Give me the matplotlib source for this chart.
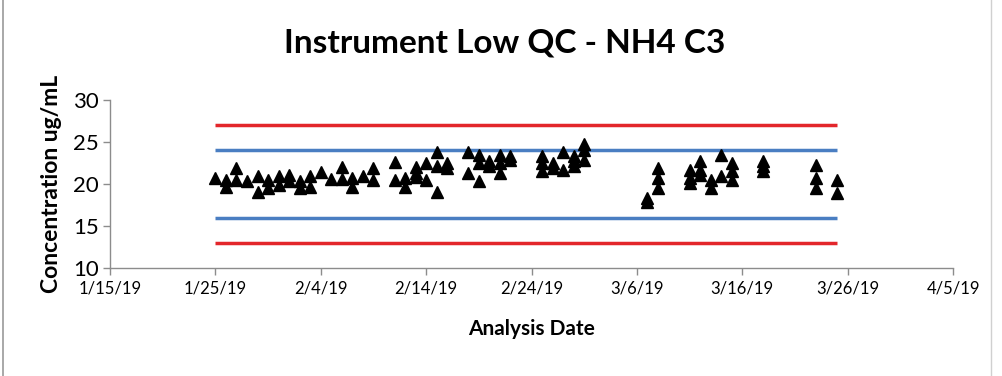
import datetime as dt
import matplotlib
matplotlib.use("Agg")
import matplotlib.pyplot as plt
import matplotlib.dates as mdates
from matplotlib.ticker import FuncFormatter

# --- QC results (date, concentration) ---
qc_dates = [
    "2019-01-25", "2019-01-26", "2019-01-26", "2019-01-27", "2019-01-27",
    "2019-01-28", "2019-01-29", "2019-01-29", "2019-01-30", "2019-01-30",
    "2019-01-31", "2019-01-31", "2019-02-01", "2019-02-01", "2019-02-02",
    "2019-02-02", "2019-02-03", "2019-02-03", "2019-02-04", "2019-02-05",
    "2019-02-06", "2019-02-06", "2019-02-07", "2019-02-07", "2019-02-08",
    "2019-02-09", "2019-02-09",
    "2019-02-11", "2019-02-11", "2019-02-12", "2019-02-12", "2019-02-13",
    "2019-02-13", "2019-02-13", "2019-02-14", "2019-02-14", "2019-02-15",
    "2019-02-15", "2019-02-15", "2019-02-16", "2019-02-16",
    "2019-02-18", "2019-02-18", "2019-02-19", "2019-02-19", "2019-02-19",
    "2019-02-20", "2019-02-20", "2019-02-21", "2019-02-21", "2019-02-21",
    "2019-02-22", "2019-02-22",
    "2019-02-25", "2019-02-25", "2019-02-25", "2019-02-26", "2019-02-26",
    "2019-02-27", "2019-02-27", "2019-02-28", "2019-02-28", "2019-02-28",
    "2019-03-01", "2019-03-01", "2019-03-01",
    "2019-03-07", "2019-03-07", "2019-03-08", "2019-03-08", "2019-03-08",
    "2019-03-11", "2019-03-11", "2019-03-11", "2019-03-12", "2019-03-12",
    "2019-03-12", "2019-03-13", "2019-03-13", "2019-03-14", "2019-03-14",
    "2019-03-15", "2019-03-15", "2019-03-15",
    "2019-03-18", "2019-03-18", "2019-03-18",
    "2019-03-23", "2019-03-23", "2019-03-23",
    "2019-03-25", "2019-03-25",
]
qc_values = [
    20.7, 20.5, 19.7, 21.9, 20.5,
    20.3, 20.9, 19.1, 20.5, 19.5,
    20.9, 19.9, 21.1, 20.3, 20.3,
    19.5, 20.9, 19.7, 21.4, 20.6,
    22.0, 20.6, 20.7, 19.6, 20.9,
    21.9, 20.5,
    22.6, 20.5, 20.7, 19.7, 22.0,
    21.3, 20.8, 22.5, 20.5, 23.8,
    22.1, 19.1, 22.5, 21.9,
    23.8, 21.3, 23.5, 22.5, 20.3,
    22.7, 22.1, 23.5, 22.5, 21.3,
    23.3, 22.9,
    23.3, 22.5, 21.5, 22.5, 21.9,
    23.8, 21.7, 23.3, 22.7, 22.1,
    24.8, 24.0, 22.9,
    18.3, 17.9, 21.9, 20.7, 19.5,
    21.7, 20.7, 20.1, 22.7, 21.7,
    21.1, 20.5, 19.5, 23.5, 20.9,
    22.5, 21.5, 20.5,
    22.7, 22.1, 21.5,
    22.3, 20.7, 19.5,
    20.5, 18.9,
]

# --- control limits ---
limit_span = ["2019-01-25", "2019-03-25"]
warning_limits = [16, 24]
control_limits = [13, 27]

x_ticks = ["2019-01-15", "2019-01-25", "2019-02-04", "2019-02-14", "2019-02-24",
           "2019-03-06", "2019-03-16", "2019-03-26", "2019-04-05"]
y_ticks = [10, 15, 20, 25, 30]


def to_num(days):
    return [mdates.date2num(dt.datetime.strptime(d, "%Y-%m-%d")) for d in days]


def fmt_date(x, pos=None):
    d = mdates.num2date(x)
    return f"{d.month}/{d.day}/{d.strftime('%y')}"


plt.rcParams['font.family'] = ['Lato', 'DejaVu Sans']

fig = plt.figure(figsize=(10.03, 3.76), dpi=100)
ax = fig.add_axes([0.1097, 0.2872, 0.8405, 0.4468])

span = to_num(limit_span)
for lim in control_limits:
    ax.plot(span, [lim, lim], color='#E3262B', linewidth=2.5, solid_capstyle='butt', zorder=2)
for lim in warning_limits:
    ax.plot(span, [lim, lim], color='#4A7EC2', linewidth=2.5, solid_capstyle='butt', zorder=2)

ax.plot(to_num(qc_dates), qc_values, linestyle='none', marker='^', color='black',
        markersize=9, zorder=3)

ax.set_xlim(to_num(["2019-01-15", "2019-04-05"]))
ax.set_ylim(10, 30)
ax.set_xticks(to_num(x_ticks))
ax.xaxis.set_major_formatter(FuncFormatter(fmt_date))
ax.set_yticks(y_ticks)

for side in ['top', 'right']:
    ax.spines[side].set_visible(False)
for side in ['left', 'bottom']:
    ax.spines[side].set_color('#8C8C8C')
    ax.spines[side].set_linewidth(1.0)
ax.tick_params(axis='both', direction='out', color='#8C8C8C', length=5, width=1)
ax.tick_params(axis='x', labelsize=12, pad=4)
ax.tick_params(axis='y', labelsize=16, pad=3)

ax.set_xlabel('Analysis Date', fontsize=15, fontweight='bold', labelpad=16)
ax.set_ylabel('Concentration ug/mL', fontsize=16.5, fontweight='bold', labelpad=8)
fig.text(0.503, 0.885, 'Instrument Low QC - NH4 C3', ha='center', va='center',
         fontsize=24, fontweight='bold')

# outer chart border
fig.add_artist(plt.Line2D([0.003, 0.003], [0, 1], color='#9A9A9A', linewidth=1.2))
fig.add_artist(plt.Line2D([0.988, 0.988], [0, 1], color='#D0D0D0', linewidth=1.0))

fig.savefig('out.png', dpi=100)
